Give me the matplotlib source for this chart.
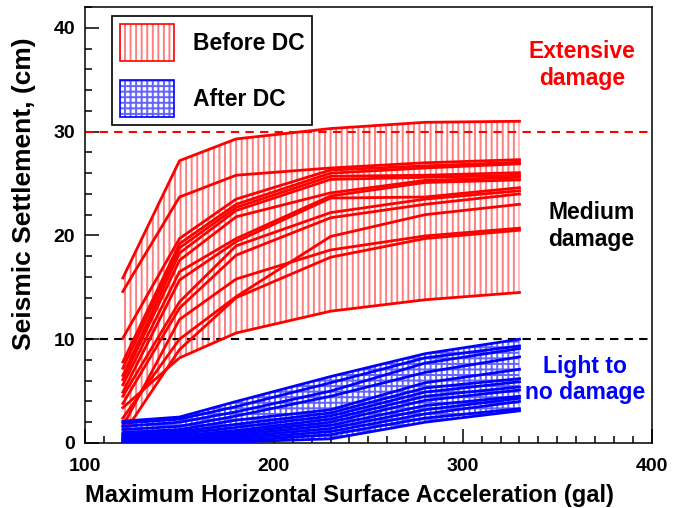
import numpy as np
import matplotlib
matplotlib.use('Agg')
import matplotlib.pyplot as plt
from matplotlib.patches import Patch
from matplotlib.ticker import MultipleLocator

plt.rcParams['font.family'] = ['Liberation Sans', 'DejaVu Sans']
plt.rcParams['font.weight'] = 'bold'
plt.rcParams['hatch.linewidth'] = 1.4

# acceleration steps (gal)
pga = [120, 150, 180, 230, 280, 330]

# settlement before deep compaction (cm)
before_dc = [
    [15.9, 27.2, 29.3, 30.3, 30.9, 31.0],
    [14.6, 23.7, 25.8, 26.5, 27.0, 27.3],
    [10.1, 19.7, 23.5, 26.3, 26.7, 27.05],
    [7.8, 19.2, 23.0, 26.0, 26.5, 26.9],
    [7.2, 18.8, 22.7, 25.7, 25.8, 26.05],
    [6.5, 18.3, 22.4, 25.4, 25.6, 25.8],
    [6.1, 17.6, 21.8, 24.1, 25.3, 25.6],
    [5.6, 16.5, 19.7, 23.8, 25.1, 25.35],
    [4.9, 15.7, 19.4, 23.6, 23.7, 24.6],
    [4.5, 13.6, 19.0, 22.2, 23.5, 24.3],
    [3.8, 13.0, 18.1, 21.7, 23.0, 24.0],
    [2.4, 10.0, 14.1, 19.9, 22.0, 23.0],
    [1.6, 11.9, 15.8, 18.6, 19.95, 20.7],
    [0.8, 9.0, 14.0, 17.9, 19.7, 20.5],
    [3.4, 8.2, 10.6, 12.7, 13.8, 14.5],
]

# settlement after deep compaction (cm)
after_dc = [
    [2.1, 2.5, 4.0, 6.4, 8.6, 10.0],
    [1.9, 2.3, 3.5, 5.8, 8.2, 9.35],
    [1.6, 2.0, 3.0, 5.0, 7.7, 9.1],
    [1.3, 1.6, 2.6, 4.5, 6.8, 8.3],
    [1.0, 1.3, 2.2, 3.2, 5.8, 7.1],
    [0.8, 1.1, 1.8, 2.9, 5.3, 6.2],
    [0.6, 0.9, 1.5, 2.6, 4.9, 5.9],
    [0.5, 0.7, 1.2, 2.3, 4.5, 5.4],
    [0.4, 0.5, 1.0, 2.0, 4.1, 5.1],
    [0.3, 0.4, 0.8, 1.7, 3.6, 4.5],
    [0.2, 0.3, 0.6, 1.4, 3.2, 4.3],
    [0.1, 0.2, 0.4, 1.1, 2.8, 4.0],
    [0.1, 0.1, 0.2, 0.8, 2.4, 3.3],
    [0.0, 0.0, 0.1, 0.4, 2.0, 3.1],
]

extensive_limit = 30
medium_limit = 10


def envelope(curves):
    xs = np.linspace(pga[0], pga[-1], 211)
    ys = np.array([np.interp(xs, pga, c) for c in curves])
    return xs, ys.min(axis=0), ys.max(axis=0)


fig = plt.figure(figsize=(6.86, 5.08), dpi=100)
ax = fig.add_axes([0.124, 0.128, 0.826, 0.858])

red_hatch = '#ff7f7f'
blue_hatch = '#6363ff'

xs, lo, hi = envelope(before_dc)
ax.fill_between(xs, lo, hi, facecolor='none', edgecolor=red_hatch,
                hatch='|||', linewidth=0, zorder=1)
xs, lo, hi = envelope(after_dc)
ax.fill_between(xs, lo, hi, facecolor='none', edgecolor=blue_hatch,
                hatch='+++', linewidth=0, zorder=1)

for c in before_dc:
    ax.plot(pga, c, color='red', lw=2.0, zorder=3)
for c in after_dc:
    ax.plot(pga, c, color='blue', lw=2.0, zorder=3)

ax.axhline(extensive_limit, color='red', lw=1.5, dashes=(4, 3), zorder=2)
ax.axhline(medium_limit, color='black', lw=1.5, dashes=(4, 3), zorder=2)

ax.text(363, 36.4, 'Extensive\ndamage', color='red', fontsize=16.5,
        fontweight='bold', ha='center', va='center')
ax.text(368, 20.9, 'Medium\ndamage', color='black', fontsize=16.5,
        fontweight='bold', ha='center', va='center')
ax.text(364.5, 6.1, 'Light to\nno damage', color='blue', fontsize=16.5,
        fontweight='bold', ha='center', va='center')

ax.set_xlim(100, 400)
ax.set_ylim(0, 42)
ax.xaxis.set_major_locator(MultipleLocator(100))
ax.xaxis.set_minor_locator(MultipleLocator(10))
ax.yaxis.set_major_locator(MultipleLocator(10))
ax.yaxis.set_minor_locator(MultipleLocator(2))
ax.tick_params(which='both', direction='in', top=False, right=False,
               width=1.1, labelsize=14)
ax.tick_params(axis='x', which='major', length=10, pad=11)
ax.tick_params(axis='y', which='major', length=10, pad=7)
ax.tick_params(which='minor', length=5)
for s in ax.spines.values():
    s.set_linewidth(1.1)

ax.set_xlabel('Maximum Horizontal Surface Acceleration (gal)',
              fontsize=17, fontweight='bold')
ax.xaxis.set_label_coords(0.467, -0.095)
ax.set_ylabel('Seismic Settlement, (cm)', fontsize=19,
              fontweight='bold')
ax.yaxis.set_label_coords(-0.086, 0.571)

red_fill = Patch(facecolor='white', edgecolor=red_hatch, hatch='|||', linewidth=0)
red_box = Patch(facecolor='none', edgecolor='red', linewidth=1.2)
blue_fill = Patch(facecolor='white', edgecolor=blue_hatch, hatch='+++', linewidth=0)
blue_box = Patch(facecolor='none', edgecolor='blue', linewidth=1.2)
leg = ax.legend([(red_fill, red_box), (blue_fill, blue_box)],
                ['Before DC', 'After DC'],
                loc='upper left', bbox_to_anchor=(0.047, 0.979),
                borderaxespad=0, fontsize=16.5, handlelength=2.36,
                handleheight=2.07, handletextpad=0.83, labelspacing=0.85,
                borderpad=0.35, fancybox=False, framealpha=1,
                edgecolor='black')
leg.get_frame().set_linewidth(1.2)

fig.savefig('out.png', dpi=100)
